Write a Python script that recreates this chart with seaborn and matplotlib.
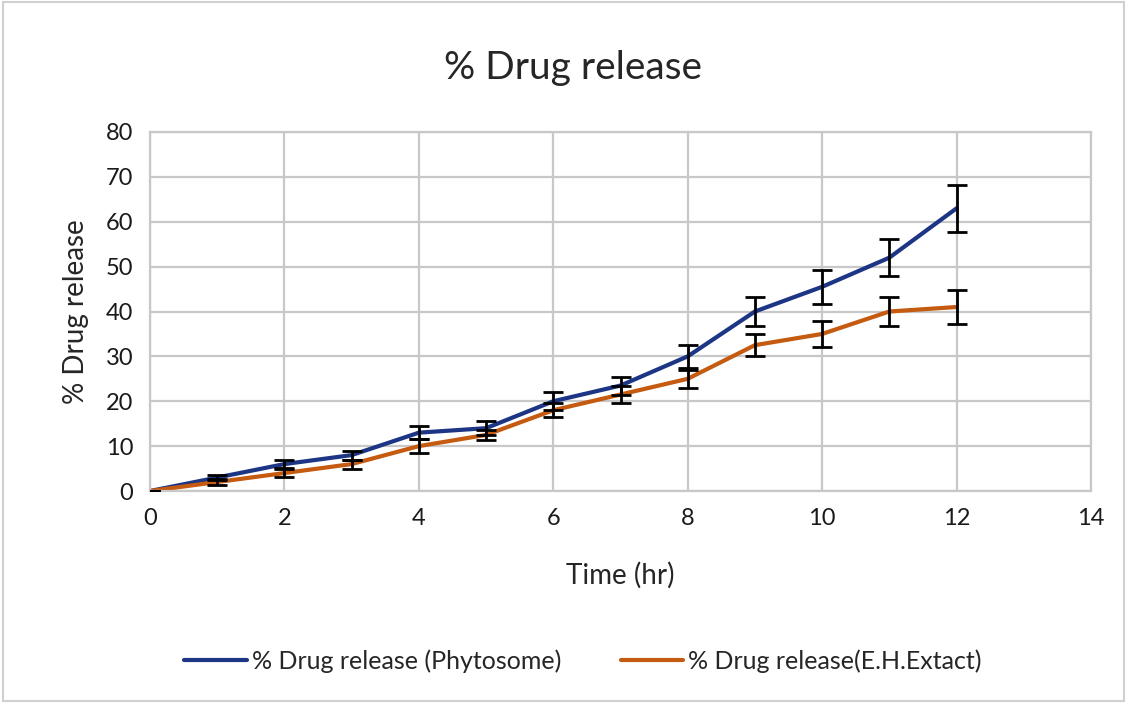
import numpy as np
import pandas as pd
import matplotlib
matplotlib.use("Agg")
import matplotlib.pyplot as plt
import seaborn as sns

# Data
time_hr = [0, 1, 2, 3, 4, 5, 6, 7, 8, 9, 10, 11, 12]
phytosome = [0, 3, 6, 8, 13, 14, 20, 23.5, 30, 40, 45.5, 52, 63]
phytosome_err = [0, 0.6, 0.8, 1, 1.5, 1.5, 2, 2, 2.5, 3.2, 3.8, 4.2, 5.3]
extract = [0, 2, 4, 6, 10, 12.5, 18, 21.5, 25, 32.5, 35, 40, 41]
extract_err = [0, 0.6, 0.8, 1, 1.5, 1.2, 1.6, 2, 2, 2.5, 2.8, 3.2, 3.8]
labels = ["% Drug release (Phytosome)", "% Drug release(E.H.Extact)"]

sns.set_style("white")
plt.rcParams["font.family"] = ["Lato", "DejaVu Sans"]

df = pd.DataFrame({
    "time": time_hr * 2,
    "release": phytosome + extract,
    "series": [labels[0]] * len(time_hr) + [labels[1]] * len(time_hr),
})
colors = {labels[0]: "#1c3585", labels[1]: "#c55a11"}

fig = plt.figure(figsize=(11.27, 7.03), dpi=100)
ax = fig.add_axes([150 / 1127, 1 - 491 / 703, (1091 - 150) / 1127, (491 - 132) / 703])

sns.lineplot(data=df, x="time", y="release", hue="series", palette=colors,
             linewidth=3, ax=ax, legend=False)
ax.errorbar(time_hr, phytosome, yerr=phytosome_err, fmt="none", ecolor="black",
            elinewidth=2, capsize=7, capthick=2, zorder=3)
ax.errorbar(time_hr, extract, yerr=extract_err, fmt="none", ecolor="black",
            elinewidth=2, capsize=7, capthick=2, zorder=3)

ax.set_xlim(0, 14)
ax.set_ylim(0, 80)
ax.set_xticks(range(0, 15, 2))
ax.set_yticks(range(0, 81, 10))
ax.grid(True, color="#c8c8c8", linewidth=1.6)
ax.set_axisbelow(True)
for s in ax.spines.values():
    s.set_color("#c8c8c8")
    s.set_linewidth(1.6)
ax.tick_params(length=0, labelsize=17, pad=12, colors="#1a1a1a")
ax.set_xlabel("Time (hr)", fontsize=20, labelpad=24)
ax.set_ylabel("% Drug release", fontsize=20, labelpad=12)
fig.text(573 / 1127, 1 - 68 / 703, "% Drug release", ha="center", va="center", fontsize=28)

handles = [plt.Line2D([], [], color=colors[l], linewidth=3) for l in labels]
fig.legend(handles, labels, loc="center", bbox_to_anchor=(583 / 1127, 1 - 661 / 703),
           ncol=2, frameon=False, fontsize=18, columnspacing=2.4, handlelength=2.5,
           handletextpad=0.2)

# light outer border
fig.patches.append(plt.Rectangle((0.003, 0.003), 0.994, 0.994, transform=fig.transFigure,
                                 fill=False, edgecolor="#d0d0d0", linewidth=1.5))

fig.savefig("out.png", dpi=100)
